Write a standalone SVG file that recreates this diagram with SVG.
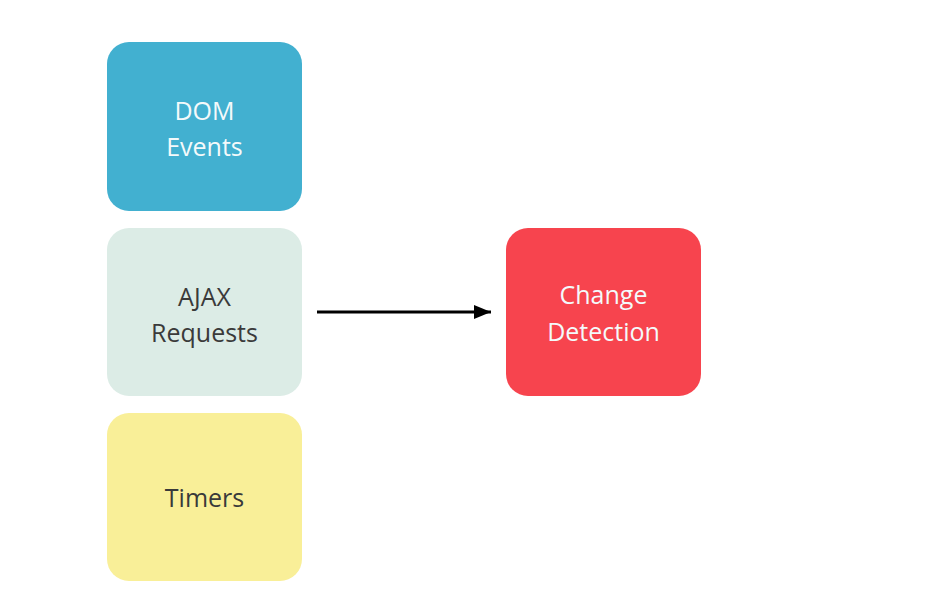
<svg xmlns="http://www.w3.org/2000/svg" width="935" height="596" viewBox="0 0 935 596">
<style>
.box{stroke:none}
.t{font-family:"Open Sans","Noto Sans",sans-serif;font-size:25px;text-anchor:middle}
.light{fill:#F4FAFB}
.dark{fill:#3A3A3A}
</style>
<defs>
<marker id="ah" markerWidth="17" markerHeight="14" refX="17" refY="7" orient="auto" markerUnits="userSpaceOnUse" viewBox="0 0 17 14">
<path d="M0,0 L17,7 L0,14 Z" fill="#000"/>
</marker>
</defs>
<rect width="935" height="596" fill="#FFFFFF"/>
<g id="dom-events">
<rect class="box" x="107" y="42" width="195" height="169" rx="22" fill="#42B0D0"/>
<text class="t light" x="204.5" y="120">DOM</text>
<text class="t light" x="204.5" y="156">Events</text>
</g>
<g id="ajax-requests">
<rect class="box" x="107" y="228" width="195" height="168" rx="22" fill="#DCECE6"/>
<text class="t dark" x="204.5" y="306">AJAX</text>
<text class="t dark" x="204.5" y="342">Requests</text>
</g>
<g id="timers">
<rect class="box" x="107" y="413" width="195" height="168" rx="22" fill="#F9EF98"/>
<text class="t dark" x="204.5" y="507">Timers</text>
</g>
<g id="change-detection">
<rect class="box" x="506" y="228" width="195" height="168" rx="22" fill="#F7444E"/>
<text class="t light" x="603.5" y="304">Change</text>
<text class="t light" x="603.5" y="341">Detection</text>
</g>
<g id="connectors">
<line x1="317" y1="312" x2="491" y2="312" stroke="#000" stroke-width="3" marker-end="url(#ah)"/>
</g>
</svg>
